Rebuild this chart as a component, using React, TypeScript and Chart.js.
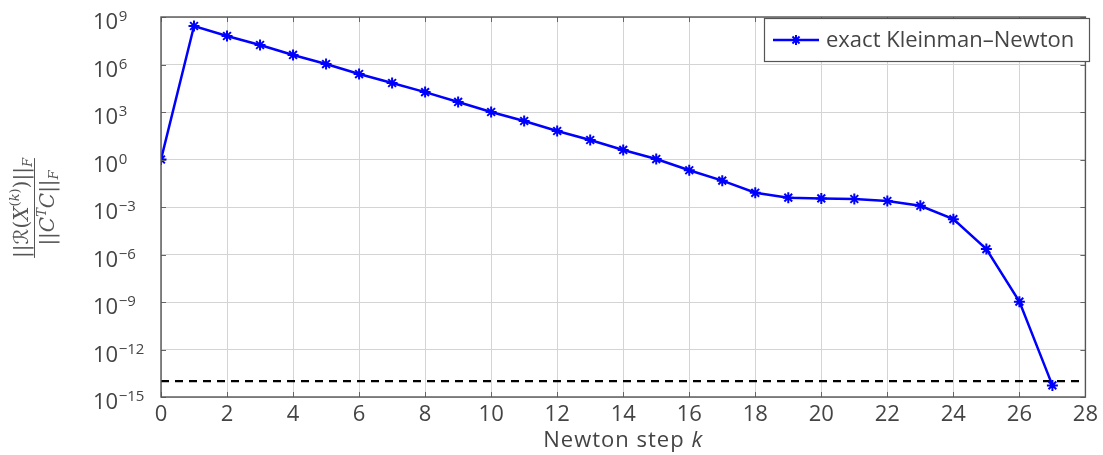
import { useEffect, useRef } from "react";
import { Chart, registerables } from "chart.js";

Chart.register(...registerables);

const steps = [0, 1, 2, 3, 4, 5, 6, 7, 8, 9, 10, 11, 12, 13, 14, 15, 16, 17, 18, 19, 20, 21, 22, 23, 24, 25, 26, 27];
const residuals = [
  1, 2.7e8, 6.3e7, 1.7e7, 4.0e6, 1.07e6, 2.5e5, 6.8e4, 1.8e4, 4.3e3, 1.0e3, 2.7e2, 63, 17, 4.0, 1.07,
  0.21, 0.046, 7.9e-3, 3.9e-3, 3.5e-3, 3.2e-3, 2.4e-3, 1.2e-3, 1.7e-4, 2.2e-6, 1.05e-9, 5.4e-15,
];
const toleranceX = [0, 28];
const toleranceValue = 1e-14;
const yTickExponents = [-15, -12, -9, -6, -3, 0, 3, 6, 9];
const legendLabel = "exact Kleinman–Newton";
const xTitle = "Newton step ";
const xTitleVar = "k";

const FONT = "'Open Sans', 'DejaVu Sans', sans-serif";
const TEXT = "#444444";
const BLUE = "#0000ff";

type Part = { t: string; size: number; dy?: number; italic?: boolean; sans?: boolean };

function drawRich(ctx: CanvasRenderingContext2D, parts: Part[], cx: number, baseline: number) {
  const fontOf = (p: Part) =>
    `${p.italic ? "italic " : ""}${p.size}px ${p.sans ? FONT : "'DejaVu Serif', 'Liberation Serif', serif"}`;
  let total = 0;
  for (const p of parts) {
    ctx.font = fontOf(p);
    total += ctx.measureText(p.t).width;
  }
  let x = cx - total / 2;
  for (const p of parts) {
    ctx.font = fontOf(p);
    ctx.fillText(p.t, x, baseline + (p.dy || 0));
    x += ctx.measureText(p.t).width;
  }
  return total;
}

const decorPlugin = {
  id: "decor",
  afterDraw(chart: any) {
    const ctx: CanvasRenderingContext2D = chart.ctx;
    const a = chart.chartArea;
    const xs = chart.scales.x;
    const ys = chart.scales.y;
    ctx.save();
    // inner tick marks
    ctx.strokeStyle = "#666666";
    ctx.lineWidth = 1;
    const tl = 5;
    for (const t of xs.ticks) {
      const px = Math.round(xs.getPixelForValue(t.value)) + 0.5;
      ctx.beginPath();
      ctx.moveTo(px, a.bottom);
      ctx.lineTo(px, a.bottom - tl);
      ctx.moveTo(px, a.top);
      ctx.lineTo(px, a.top + tl);
      ctx.stroke();
    }
    for (const t of ys.ticks) {
      const py = Math.round(ys.getPixelForValue(t.value)) + 0.5;
      ctx.beginPath();
      ctx.moveTo(a.left, py);
      ctx.lineTo(a.left + tl, py);
      ctx.moveTo(a.right, py);
      ctx.lineTo(a.right - tl, py);
      ctx.stroke();
    }
    // frame
    ctx.strokeStyle = "#555555";
    ctx.lineWidth = 1.4;
    ctx.strokeRect(a.left, a.top, a.right - a.left, a.bottom - a.top);

    // y tick labels (10 with superscript exponent), left aligned
    ctx.fillStyle = TEXT;
    ctx.textAlign = "left";
    ctx.textBaseline = "alphabetic";
    for (const e of yTickExponents) {
      const py = ys.getPixelForValue(Math.pow(10, e));
      ctx.font = `22px ${FONT}`;
      const base = "10";
      ctx.fillText(base, 93, py + 12);
      const w = ctx.measureText(base).width;
      ctx.font = `15px ${FONT}`;
      const exp = String(e).replace("-", "−");
      ctx.fillText(exp, 93 + w + 0.5, py + 4);
    }

    // legend
    const lx = 764, ly = 18, lw = 1089 - 764, lh = 43;
    ctx.fillStyle = "#ffffff";
    ctx.fillRect(lx, ly, lw, lh);
    ctx.strokeStyle = "#555555";
    ctx.lineWidth = 1.2;
    ctx.strokeRect(lx + 0.5, ly + 0.5, lw, lh);
    const my = ly + lh / 2 + 0.5;
    ctx.strokeStyle = BLUE;
    ctx.lineWidth = 2.5;
    ctx.beginPath();
    ctx.moveTo(773, my);
    ctx.lineTo(819, my);
    ctx.stroke();
    ctx.lineWidth = 2;
    const r = 5;
    ctx.beginPath();
    for (let i = 0; i < 4; i++) {
      const ang = (i * Math.PI) / 4;
      ctx.moveTo(796 - r * Math.cos(ang), my - r * Math.sin(ang));
      ctx.lineTo(796 + r * Math.cos(ang), my + r * Math.sin(ang));
    }
    ctx.stroke();
    ctx.fillStyle = TEXT;
    ctx.font = `22px ${FONT}`;
    ctx.textBaseline = "middle";
    ctx.textAlign = "left";
    ctx.fillText(legendLabel, 826, my + 1);

    // x title
    ctx.textBaseline = "alphabetic";
    (ctx as any).letterSpacing = "1px";
    ctx.font = `22px ${FONT}`;
    const w1 = ctx.measureText(xTitle).width;
    ctx.font = `italic 22px ${FONT}`;
    const w2 = ctx.measureText(xTitleVar).width;
    const sx = (a.left + a.right) / 2 - (w1 + w2) / 2;
    ctx.font = `22px ${FONT}`;
    ctx.fillText(xTitle, sx, 447);
    ctx.font = `italic 22px ${FONT}`;
    ctx.fillText(xTitleVar, sx + w1, 447);
    (ctx as any).letterSpacing = "0px";

    // y title (fraction), rotated
    ctx.translate(34, 208);
    ctx.rotate(-Math.PI / 2);
    ctx.fillStyle = "#555555";
    const num: Part[] = [
      { t: "||", size: 20 },
      { t: "ℛ", size: 20, sans: true },
      { t: "(", size: 20 },
      { t: "X", size: 20, italic: true },
      { t: "(", size: 13, dy: -9 },
      { t: "k", size: 13, dy: -9, italic: true },
      { t: ")", size: 13, dy: -9 },
      { t: ")", size: 20 },
      { t: "||", size: 20 },
      { t: "F", size: 13, dy: 4, italic: true },
    ];
    const den: Part[] = [
      { t: "||", size: 20 },
      { t: "C", size: 20, italic: true },
      { t: "T", size: 13, dy: -8, italic: true },
      { t: "C", size: 20, italic: true },
      { t: "||", size: 20 },
      { t: "F", size: 13, dy: 4, italic: true },
    ];
    const wn = drawRich(ctx, num, 0, -6);
    drawRich(ctx, den, 0, 20);
    ctx.strokeStyle = "#555555";
    ctx.lineWidth = 1;
    ctx.beginPath();
    ctx.moveTo(-wn / 2, 0.5);
    ctx.lineTo(wn / 2, 0.5);
    ctx.stroke();
    ctx.restore();
  },
};

export default function App() {
  const ref = useRef<HTMLCanvasElement | null>(null);
  useEffect(() => {
    if (!ref.current) return;
    const chart = new Chart(ref.current, {
      type: "line",
      data: {
        datasets: [
          {
            label: legendLabel,
            data: steps.map((k, i) => ({ x: k, y: residuals[i] })),
            borderColor: BLUE,
            backgroundColor: BLUE,
            borderWidth: 2.5,
            pointStyle: "star",
            pointRadius: 5.5,
            pointBorderWidth: 2,
            pointBorderColor: BLUE,
            tension: 0,
            order: 0,
          },
          {
            label: "tolerance",
            data: toleranceX.map((x) => ({ x, y: toleranceValue })),
            borderColor: "#000000",
            borderWidth: 2.2,
            borderDash: [8, 6],
            pointRadius: 0,
            order: 1,
          },
        ],
      },
      options: {
        responsive: false,
        animation: false,
        layout: { padding: { left: 0, right: 14, top: 17, bottom: 0 } },
        plugins: { legend: { display: false }, tooltip: { enabled: false } },
        scales: {
          x: {
            type: "linear",
            min: 0,
            max: 28,
            ticks: { stepSize: 2, color: TEXT, font: { family: FONT, size: 22 }, padding: 5 },
            grid: { color: "#d4d4d4", lineWidth: 1, drawTicks: false },
            border: { display: false },
            afterFit: (s: any) => {
              s.height = 58;
            },
          },
          y: {
            type: "logarithmic",
            min: 1e-15,
            max: 1e9,
            afterBuildTicks: (s: any) => {
              s.ticks = yTickExponents.map((e) => ({ value: Math.pow(10, e) }));
            },
            ticks: { display: false },
            grid: { color: "#d4d4d4", lineWidth: 1, drawTicks: false },
            border: { display: false },
            afterFit: (s: any) => {
              s.width = 161;
            },
          },
        },
      },
      plugins: [decorPlugin],
    } as any);
    return () => chart.destroy();
  }, []);
  return (
    <div style={{ position: "absolute", left: 0, top: 0, width: 1103, height: 455, background: "#fff" }}>
      <canvas ref={ref} width={1103} height={455} />
    </div>
  );
}
